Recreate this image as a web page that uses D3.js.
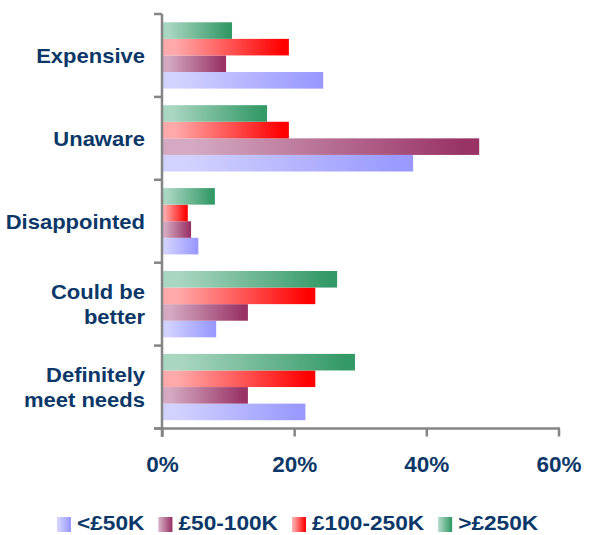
<!DOCTYPE html>
<html><head><meta charset="utf-8">
<script src="https://cdn.jsdelivr.net/npm/d3@7"></script>
<style>body{margin:0;background:#fff}svg{display:block}</style>
</head><body>
<svg id="c" width="591" height="535"></svg>
<script>
const categories = ["Expensive", "Unaware", "Disappointed", "Could be better", "Definitely meet needs"];
const categoryLines = [["Expensive"], ["Unaware"], ["Disappointed"], ["Could be", "better"], ["Definitely", "meet needs"]];
const seriesNames = ["<£50K", "£50-100K", "£100-250K", ">£250K"];
const under50 = [24.4, 38.0, 5.5, 8.2, 21.7];
const from50to100 = [9.7, 48.0, 4.4, 13.0, 13.0];
const from100to250 = [19.2, 19.2, 3.9, 23.2, 23.2];
const over250 = [10.6, 15.9, 8.0, 26.5, 29.2];
const seriesValues = [under50, from50to100, from100to250, over250];
const xTicks = [0, 20, 40, 60];

const lightColors = ["#d2d2ff", "#d4a9c1", "#ffaaaa", "#a9d6c1"];
const darkColors = ["#9999ff", "#993366", "#ff0000", "#339966"];
const textColor = "#0b3868";
const axisColor = "#858585";
const font = "Liberation Sans, Arial, sans-serif";

const svg = d3.select("#c");
const defs = svg.append("defs");
seriesNames.forEach((s, i) => {
  const g = defs.append("linearGradient").attr("id", "g" + i)
    .attr("x1", "0").attr("x2", "1").attr("y1", "0").attr("y2", "0");
  g.append("stop").attr("offset", "0.1").attr("stop-color", lightColors[i]);
  g.append("stop").attr("offset", "0.95").attr("stop-color", darkColors[i]);
});

const x = d3.scaleLinear().domain([0, 60]).range([162, 558.5]);
const y = d3.scaleBand().domain(categories).range([14, 428.5]).paddingInner(0.2).paddingOuter(0.1);
const inner = d3.scaleBand().domain([3, 2, 1, 0]).range([0, y.bandwidth()]);

const rows = [];
categories.forEach((c, ci) => seriesValues.forEach((vals, si) => rows.push({c, si, v: vals[ci]})));

svg.append("g").selectAll("rect").data(rows).join("rect")
  .attr("x", x(0))
  .attr("y", d => y(d.c) + inner(d.si))
  .attr("width", d => x(d.v) - x(0))
  .attr("height", inner.bandwidth())
  .attr("fill", d => "url(#g" + d.si + ")");

// x axis
const xAxis = svg.append("g").attr("transform", "translate(0,428.5)")
  .call(d3.axisBottom(x).tickValues(xTicks).tickFormat(d => d + "%").tickSize(8).tickSizeOuter(0));
xAxis.select(".domain").attr("d", "M154,0H560").attr("stroke", axisColor).attr("stroke-width", 2.5);
xAxis.selectAll("line").attr("stroke", axisColor).attr("stroke-width", 2.5);
xAxis.selectAll("text").attr("fill", textColor).attr("font-family", font)
  .attr("font-weight", "bold").attr("font-size", 22.5).attr("y", 43.5).attr("dy", null);

// y axis
const yBounds = categories.map(c => y(c) - y.step() * y.paddingInner() / 2).concat([428.5]);
const yAx = svg.append("g");
yAx.append("line").attr("x1", 162).attr("x2", 162).attr("y1", 14).attr("y2", 437)
  .attr("stroke", axisColor).attr("stroke-width", 2.5);
yAx.selectAll("line.t").data(yBounds).join("line").attr("class", "t")
  .attr("x1", 154).attr("x2", 162).attr("y1", d => d).attr("y2", d => d)
  .attr("stroke", axisColor).attr("stroke-width", 2.5);

// category labels
const lab = svg.append("g").attr("font-family", font)
  .attr("font-weight", "bold").attr("font-size", 20).attr("fill", textColor).attr("text-anchor", "end");
categories.forEach((c, i) => {
  const lines = categoryLines[i];
  const cy = y(c) + y.bandwidth() / 2;
  const lh = 25;
  const t = lab.append("text").attr("transform", "translate(145,0) scale(1.1,1)");
  lines.forEach((l, j) => {
    t.append("tspan").attr("x", 0)
      .attr("y", cy + (j - (lines.length - 1) / 2) * lh).attr("dy", "0.38em").text(l);
  });
});

// legend
const leg = svg.append("g").attr("font-family", font)
  .attr("font-weight", "bold").attr("font-size", 21).attr("fill", textColor);
let lx = 57;
seriesNames.forEach((s, i) => {
  leg.append("rect").attr("x", lx).attr("y", 517).attr("width", 14).attr("height", 15)
    .attr("fill", "url(#g" + i + ")");
  const t = leg.append("text").attr("transform", `translate(${lx + 20},530) scale(1.08,1)`).text(s);
  lx += 20 + t.node().getComputedTextLength() * 1.08 + 14;
});
</script>
</body></html>
